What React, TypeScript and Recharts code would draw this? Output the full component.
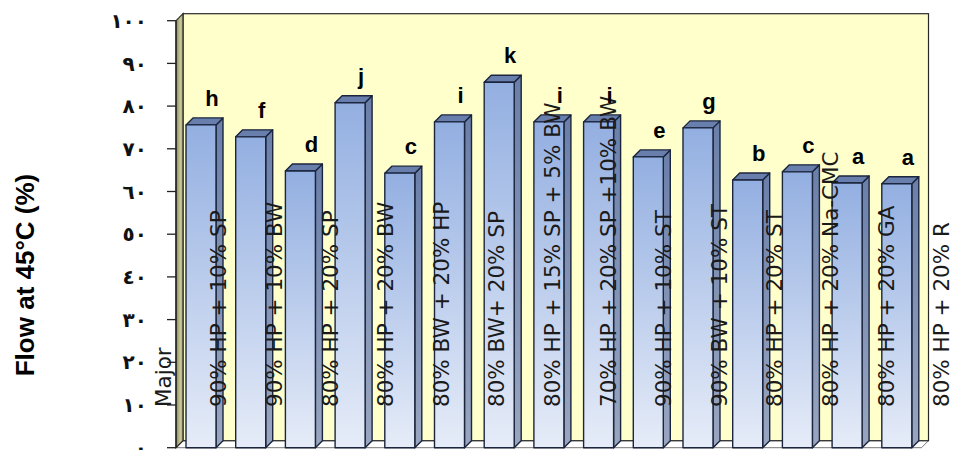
import React from 'react';
import { BarChart, Bar, XAxis, YAxis, ReferenceArea, LabelList, Label } from 'recharts';

const CATEGORIES = [
  'Major',
  '90% HP + 10% SP',
  '90% HP + 10% BW',
  '80% HP + 20% SP',
  '80% HP + 20% BW',
  '80% BW + 20% HP',
  '80% BW+ 20% SP',
  '80% HP + 15% SP + 5% BW',
  '70% HP + 20% SP +10% BW',
  '90% HP + 10% ST',
  '90% BW + 10% ST',
  '80% HP + 20% ST',
  '80% HP + 20% Na-CMC',
  '80% HP + 20% GA',
  '80% HP + 20% R',
];
const FLOW = [75.6, 72.8, 64.8, 80.8, 64.3, 76.3, 85.6, 76.3, 76.3, 68.1, 74.9, 62.7, 64.6, 62.0, 61.8];
const GROUPS = ['h', 'f', 'd', 'j', 'c', 'i', 'k', 'i', 'i', 'e', 'g', 'b', 'c', 'a', 'a'];
const Y_TICKS = [0, 10, 20, 30, 40, 50, 60, 70, 80, 90, 100];
const Y_TICK_LABELS = ['٠', '١٠', '٢٠', '٣٠', '٤٠', '٥٠', '٦٠', '٧٠', '٨٠', '٩٠', '١٠٠'];

const data = CATEGORIES.map((name, i) => ({ name, flow: FLOW[i], group: GROUPS[i] }));

// depth of the fake 3D extrusion
const DX = 7;
const DY = 7;
// category labels are spread a bit wider than the columns, pivoting near the middle
const LABEL_PIVOT = 519;
const LABEL_SPREAD = 55.6 / 49.7;
const LABEL_BASE_Y = 407;

function Walls(props: any) {
  const { x, y, width, height } = props;
  const b = y + height;
  return (
    <g>
      <polygon
        points={`${x},${b} ${x + width},${b} ${x + width + DX},${b - DY} ${x + DX},${b - DY}`}
        fill="#ffffff"
        stroke="#777"
        strokeWidth={1}
      />
      <rect x={x + DX} y={y - DY} width={width} height={height} fill="#ffffcc" stroke="#2a2a2a" strokeWidth={1.2} />
      <polygon
        points={`${x},${b} ${x},${y} ${x + DX},${y - DY} ${x + DX},${b - DY}`}
        fill="url(#wallSide)"
        stroke="#2a2a2a"
        strokeWidth={1.2}
      />
    </g>
  );
}

function Column3D(props: any) {
  const { x, y, width, height } = props;
  if (!height || height <= 0) return null;
  const r = x + width;
  const b = y + height;
  return (
    <g stroke="#1b253d" strokeWidth={1.4} strokeLinejoin="round">
      <polygon points={`${r},${y} ${r + DX},${y - DY} ${r + DX},${b - DY} ${r},${b}`} fill="url(#colSide)" />
      <polygon points={`${x},${y} ${x + DX},${y - DY} ${r + DX},${y - DY} ${r},${y}`} fill="#687ead" />
      <rect x={x} y={y} width={width} height={height} fill="url(#colFront)" />
    </g>
  );
}

function CategoryLabel(props: any) {
  const { x, width, value } = props;
  const cx = x + width / 2;
  const lx = LABEL_PIVOT + (cx - LABEL_PIVOT) * LABEL_SPREAD;
  return (
    <text
      x={lx}
      y={LABEL_BASE_Y}
      transform={`rotate(-90 ${lx} ${LABEL_BASE_Y})`}
      textAnchor="start"
      dominantBaseline="central"
      fontFamily="DejaVu Sans"
      fontSize={21.5}
      fill="#1a1a1a"
    >
      {value}
    </text>
  );
}

function GroupLetter(props: any) {
  const { x, y, width, value } = props;
  return (
    <text
      x={x + width / 2 + 11}
      y={y - 19}
      textAnchor="middle"
      fontFamily="Liberation Sans, Arial"
      fontWeight="bold"
      fontSize={22}
      fill="#000"
    >
      {value}
    </text>
  );
}

export default function App() {
  return (
    <div style={{ position: 'absolute', left: 0, top: 0, background: '#fff' }}>
      <svg width={0} height={0} style={{ position: 'absolute' }}>
        <defs>
          <linearGradient id="colFront" x1="0" y1="0" x2="0" y2="1">
            <stop offset="0%" stopColor="#93afe1" />
            <stop offset="100%" stopColor="#e6ecf8" />
          </linearGradient>
          <linearGradient id="colSide" x1="0" y1="0" x2="0" y2="1">
            <stop offset="0%" stopColor="#6a7fa9" />
            <stop offset="100%" stopColor="#9aa6c0" />
          </linearGradient>
          <linearGradient id="wallSide" x1="0" y1="0" x2="1" y2="0">
            <stop offset="0%" stopColor="#86865a" />
            <stop offset="60%" stopColor="#c9c99a" />
            <stop offset="100%" stopColor="#a8a87a" />
          </linearGradient>
        </defs>
      </svg>
      <BarChart
        width={953}
        height={450}
        data={data}
        margin={{ top: 20.7, right: 31.5, bottom: 2.3, left: 0 }}
        barSize={30}
      >
        <ReferenceArea y1={0} y2={100} ifOverflow="visible" shape={(p: any) => <Walls {...p} />} />
        <XAxis dataKey="name" hide />
        <YAxis
          domain={[0, 100]}
          ticks={Y_TICKS}
          interval={0}
          width={176}
          tickSize={9}
          tickMargin={20}
          axisLine={{ stroke: '#222', strokeWidth: 1.3 }}
          tickLine={{ stroke: '#222', strokeWidth: 1.3 }}
          tickFormatter={(v: number) => Y_TICK_LABELS[Y_TICKS.indexOf(v)]}
          tick={{ fontFamily: 'DejaVu Sans', fontSize: 20, fontWeight: 'bold', fill: '#111' }}
        >
          <Label
            content={() => (
              <text
                x={25}
                y={275}
                transform="rotate(-90 25 275)"
                textAnchor="middle"
                dominantBaseline="central"
                fontFamily="Liberation Sans, Arial"
                fontWeight="bold"
                fontSize={26}
                fill="#000"
              >
                Flow at 45°C (%)
              </text>
            )}
          />
        </YAxis>
        <Bar dataKey="flow" shape={(p: any) => <Column3D {...p} />} isAnimationActive={false}>
          <LabelList dataKey="name" content={(p: any) => <CategoryLabel {...p} />} />
          <LabelList dataKey="group" content={(p: any) => <GroupLetter {...p} />} />
        </Bar>
      </BarChart>
    </div>
  );
}
